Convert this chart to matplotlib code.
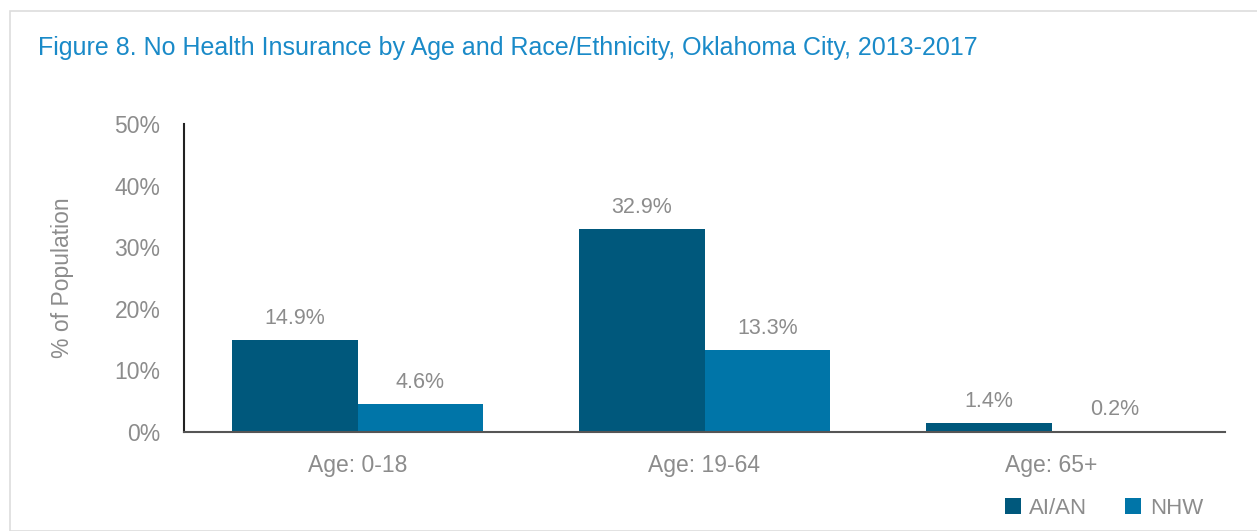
import numpy as np
import matplotlib.pyplot as plt
from matplotlib.patches import Rectangle

plt.rcParams['font.family'] = ['Liberation Sans Narrow', 'Liberation Sans', 'DejaVu Sans']

grupos = ["Age: 0-18", "Age: 19-64", "Age: 65+"]
aian = [14.9, 32.9, 1.4]
nhw = [4.6, 13.3, 0.2]
series = ["AI/AN", "NHW"]
colores = ["#00587c", "#0075a8"]
gris = "#8c8c8c"

fig = plt.figure(figsize=(12.57, 5.31), dpi=100)
fig.patches.append(Rectangle((10/1257, 0), 1.2, 1-11/531, transform=fig.transFigure,
                             fill=False, edgecolor="#dddddd", lw=1.2))
fig.text(38/1257, 1-48/531, "Figure 8. No Health Insurance by Age and Race/Ethnicity, Oklahoma City, 2013-2017",
         color="#1a8ac8", fontsize=18, va="center", ha="left")

ax = fig.add_axes([184/1257, 1-432/531, 1041/1257, 308/531])
x = np.arange(len(grupos))
w = 0.363
b1 = ax.bar(x - w/2, aian, w, color=colores[0], label=series[0])
b2 = ax.bar(x + w/2, nhw, w, color=colores[1], label=series[1])
for barras in (b1, b2):
    for r in barras:
        ax.text(r.get_x() + r.get_width()/2, r.get_height() + 3.5, f"{r.get_height():.1f}%",
                ha="center", va="center", color=gris, fontsize=15.5)

ax.set_xlim(-0.5, 2.5)
ax.set_ylim(0, 50)
ax.set_yticks(range(0, 51, 10))
ax.set_yticklabels([f"{v}%" for v in range(0, 51, 10)])
ax.set_xticks(x)
ax.set_xticklabels(grupos)
ax.tick_params(axis="both", length=0, colors=gris, labelsize=16.5)
ax.tick_params(axis="y", pad=17)
ax.tick_params(axis="x", pad=16)
for s in ["top", "right"]:
    ax.spines[s].set_visible(False)
ax.spines["left"].set_color("#222222")
ax.spines["bottom"].set_color("#555555")
ax.spines["left"].set_linewidth(1.5)
ax.spines["bottom"].set_linewidth(1.5)
ax.set_ylabel("% of Population", color=gris, fontsize=16.5, labelpad=29)

ax.legend(loc="center", bbox_to_anchor=(1104/1257, 1-508/531), bbox_transform=fig.transFigure,
          ncol=2, frameon=False, fontsize=16, labelcolor=gris, handlelength=0.7, handleheight=0.7,
          columnspacing=1.7, handletextpad=0.4)

fig.savefig("out.png", dpi=100)
